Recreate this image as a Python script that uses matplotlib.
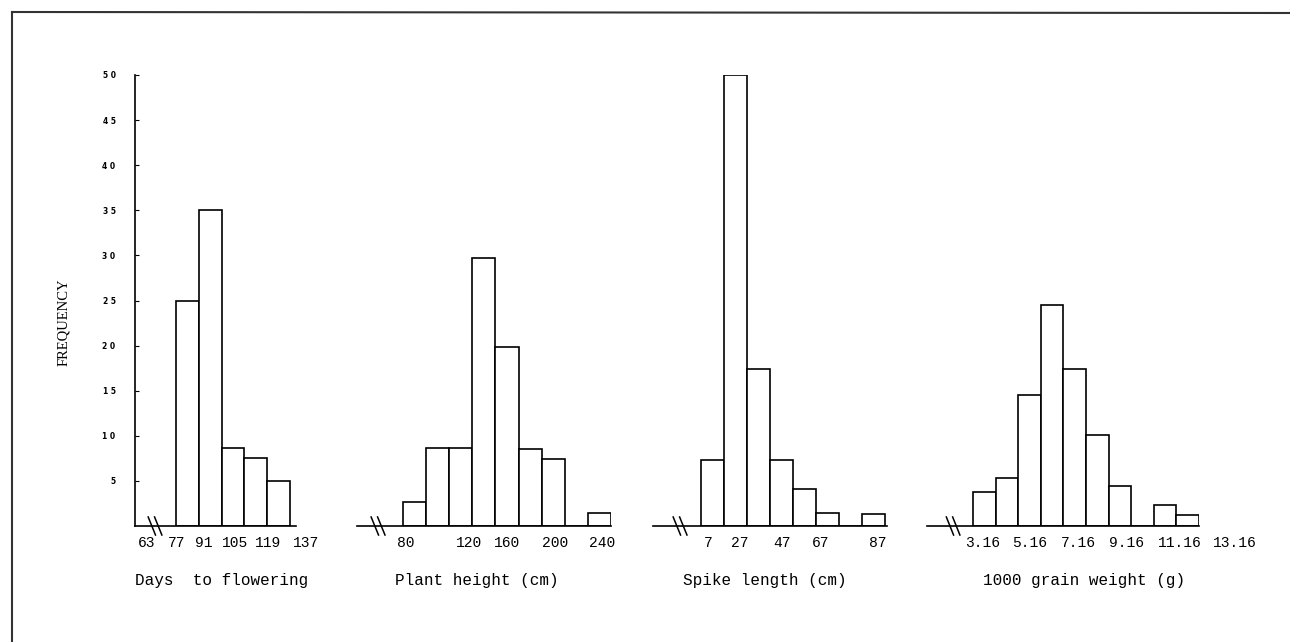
import numpy as np
import matplotlib
matplotlib.use("Agg")
import matplotlib.pyplot as plt
from matplotlib.lines import Line2D

# frequencies
days_labels = ['63', '77', '91', '105', '119', '137']
days_freq = [25, 35, 8.7, 7.5, 5]

height_labels = ['80', '120', '160', '200', '240']
height_freq = [2.7, 8.6, 8.6, 29.7, 19.8, 8.5, 7.4, 0, 1.4]

spike_labels = ['7', '27', '47', '67', '87']
spike_freq = [7.3, 50, 17.4, 7.3, 4.1, 1.4, 0, 1.3]

grain_labels = ['3.16', '5.16', '7.16', '9.16', '11.16', '13.16']
grain_freq = [3.8, 5.3, 14.5, 24.5, 17.4, 10.1, 4.4, 0, 2.3, 1.2]

titles = ['Days  to flowering', 'Plant height (cm)', 'Spike length (cm)',
          '1000 grain weight (g)']
freq_ticks = list(range(5, 55, 5))

# layout (pixels of a 1290x642 figure): axis start/end, first bar edge, bin width
W, H = 1290, 642
panels = [
    dict(freq=days_freq, labels=days_labels, x0=135, x1=296, bar0=176, bw=22.8,
         ticks=[-1.27, 0.04, 1.23, 2.59, 4.04, 5.7], brk=-0.92, title_x=135),
    dict(freq=height_freq, labels=height_labels, x0=357, x1=611, bar0=403, bw=23.1,
         ticks=[0.13, 2.86, 4.5, 6.58, 8.6], brk=-1.08, title_x=395),
    dict(freq=spike_freq, labels=spike_labels, x0=653, x1=887, bar0=701, bw=23.0,
         ticks=[0.3, 1.7, 3.5, 5.2, 7.67], brk=-0.91, title_x=683),
    dict(freq=grain_freq, labels=grain_labels, x0=927, x1=1199, bar0=973, bw=22.6,
         ticks=[0.44, 2.52, 4.65, 6.8, 9.16, 11.6], brk=-0.88, title_x=983),
]
base_px, top_px = 526, 75

mono = 'Liberation Mono'
fig = plt.figure(figsize=(W / 100, H / 100), dpi=100)

for i, p in enumerate(panels):
    n = len(p['freq'])
    ax = fig.add_axes([p['x0'] / W, (H - base_px) / H,
                       (p['x1'] - p['x0']) / W, (base_px - top_px) / H])
    ax.bar(np.arange(n), p['freq'], width=1.0, align='edge',
           color='white', edgecolor='black', linewidth=1.2)
    ax.set_xlim((p['x0'] - p['bar0']) / p['bw'], (p['x1'] - p['bar0']) / p['bw'])
    ax.set_ylim(0, 50)
    ax.set_xticks([])
    # typed class labels under the axis (some sit past the axis end)
    for pos, lab in zip(p['ticks'], p['labels']):
        ax.annotate(lab, (pos, 0), xycoords=ax.get_xaxis_transform(),
                    xytext=(0, -7), textcoords='offset points', ha='center',
                    va='top', fontfamily=mono, fontsize=10.5,
                    annotation_clip=False)
    for s in ['top', 'right']:
        ax.spines[s].set_visible(False)
    ax.spines['bottom'].set_linewidth(1.2)
    if i == 0:
        ax.spines['left'].set_linewidth(1.2)
        ax.set_yticks(freq_ticks, [' '.join(str(v)) for v in freq_ticks],
                      fontsize=5.5, fontweight='bold')
        ax.tick_params(axis='y', direction='in', length=3, width=0.8, pad=14)
        ax.set_ylim(0, 50)
    else:
        ax.spines['left'].set_visible(False)
        ax.set_yticks([])
    # axis break marks
    for dx in (-0.14, 0.14):
        b = p['brk'] + dx
        ax.plot([b - 0.16, b + 0.16], [1.0, -1.0], color='black', lw=1.1,
                clip_on=False)
    fig.text(p['title_x'] / W, 1 - 580 / H, titles[i], fontfamily=mono,
             fontsize=11.5, ha='left', va='center')

fig.text(64 / W, 1 - 322 / H, 'FREQUENCY', rotation=90, ha='center',
         va='center', fontfamily='Liberation Serif', fontsize=10.5)

# scanned page frame (left and top edges)
fig.add_artist(Line2D([12 / W, 12 / W], [0, 1 - 12 / H], color='#333333',
                      lw=1.5, transform=fig.transFigure))
fig.add_artist(Line2D([12 / W, 1], [1 - 12 / H, 1 - 13 / H], color='#333333',
                      lw=1.5, transform=fig.transFigure))

fig.savefig('out.png', dpi=100, facecolor='white')
